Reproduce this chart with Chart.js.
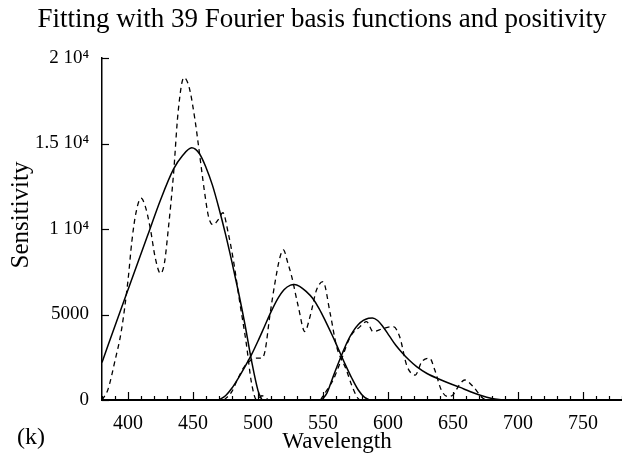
<!DOCTYPE html>
<html><head><meta charset="utf-8">
<script src="https://cdn.jsdelivr.net/npm/chart.js@4/dist/chart.umd.min.js"></script>
<style>html,body{margin:0;padding:0;background:#fff}#wrap{width:622px;height:457px}</style>
</head><body><div id="wrap"><canvas id="c" width="622" height="457"></canvas></div>
<script>
const titleText = "Fitting with 39 Fourier basis functions and positivity";
const xTitle = "Wavelength";
const yTitle = "Sensitivity";
const panelLabel = "(k)";
const xTickValues = [400, 450, 500, 550, 600, 650, 700, 750];
const yTickValues = [0, 5000, 10000, 15000, 20000];
const yTickLabels = ["0", "5000", "1 10\u2074", "1.5 10\u2074", "2 10\u2074"];

// Fitted (solid) curves
const blueFitX = [380, 395, 405, 415, 425, 435, 442, 449, 455, 460, 465, 470, 475, 480, 485, 490, 495, 500, 503];
const blueFitY = [2200, 5400, 7500, 9600, 11700, 13500, 14300, 14750, 14400, 13600, 12550, 11200, 9700, 8050, 6300, 4400, 2300, 550, 0];
const greenFitX = [470, 475, 480, 485, 490, 495, 500, 505, 510, 515, 520, 525, 528, 532, 537, 542, 547, 552, 557, 562, 567, 572, 577, 582, 586];
const greenFitY = [0, 250, 700, 1300, 1950, 2650, 3450, 4300, 5150, 5900, 6450, 6720, 6750, 6650, 6350, 5950, 5350, 4600, 3800, 2950, 2100, 1300, 600, 150, 0];
const redFitX = [549, 553, 557, 561, 565, 569, 573, 577, 581, 585, 588, 592, 596, 601, 606, 611, 616, 622, 630, 640, 648, 655, 663, 671, 680, 688];
const redFitY = [0, 400, 1200, 2000, 2750, 3450, 4000, 4400, 4650, 4780, 4800, 4650, 4300, 3750, 3200, 2750, 2350, 1950, 1550, 1200, 950, 750, 500, 280, 90, 0];

// Measured (dashed) curves
const blueDataX = [380, 384.5, 390, 395, 400, 403, 406, 410, 413, 417, 421, 425, 428, 431, 435, 438.5, 443, 447, 451.5, 454, 459, 462, 465.5, 469, 473, 477, 481, 486, 491, 495, 499, 503, 508];
const blueDataY = [0, 600, 2300, 4100, 7000, 9300, 10900, 11800, 11400, 10100, 8300, 7400, 8000, 10000, 13200, 16800, 18850, 18300, 16400, 15000, 12100, 10700, 10250, 10500, 10950, 9800, 8200, 5700, 3300, 1000, 0, 250, 0];
const greenDataX = [474, 480, 484, 489, 494, 499, 503, 505.5, 509, 513, 517, 519.5, 523, 526, 531, 536, 540, 545, 550, 555.5, 560.5, 568, 572, 576, 578];
const greenDataY = [0, 500, 1170, 1900, 2300, 2450, 2450, 2900, 4870, 6830, 8380, 8780, 8000, 7200, 5460, 4000, 4870, 6430, 6920, 5070, 3120, 1750, 880, 190, 0];
const redDataX = [548, 553, 558, 562, 564.5, 571, 578.5, 583.5, 588.5, 596.5, 604, 609, 614.5, 621, 626, 632, 636, 641, 646, 650, 655, 659, 665.5, 673, 676];
const redDataY = [0, 580, 1200, 1950, 2440, 3700, 4290, 4580, 4000, 4190, 4290, 3700, 2000, 1460, 2240, 2440, 1755, 585, 200, 300, 900, 1170, 780, 100, 0];

const SERIF = "'Liberation Serif', 'Times New Roman', serif";

function pts(xs, ys) { return xs.map((x, i) => ({ x: x, y: ys[i] })); }
function ds(xs, ys, dashed) {
  return {
    data: pts(xs, ys),
    borderColor: '#000',
    borderWidth: dashed ? 1.3 : 1.5,
    borderDash: dashed ? [5, 4] : [],
    pointRadius: 0,
    fill: false,
    cubicInterpolationMode: 'monotone'
  };
}

const decor = {
  id: 'decor',
  afterDraw(chart) {
    const ctx = chart.ctx;
    const xs = chart.scales.x, ys = chart.scales.y;
    const area = chart.chartArea;
    ctx.save();
    ctx.strokeStyle = '#000';
    ctx.lineWidth = 1.2;
    for (let v = 380; v <= 780; v += 10) {
      const px = Math.round(xs.getPixelForValue(v)) + 0.5;
      const len = (v % 50 === 0) ? 8 : 4;
      ctx.beginPath();
      ctx.moveTo(px, area.bottom);
      ctx.lineTo(px, area.bottom - len);
      ctx.stroke();
    }
    yTickValues.forEach(v => {
      const py = Math.round(ys.getPixelForValue(v)) + 0.5;
      ctx.beginPath();
      ctx.moveTo(area.left, py);
      ctx.lineTo(area.left + 7, py);
      ctx.stroke();
    });
    ctx.fillStyle = '#000';
    ctx.font = '27px ' + SERIF;
    ctx.textAlign = 'center';
    ctx.textBaseline = 'alphabetic';
    ctx.fillText(titleText, 322, 27);
    ctx.font = '23px ' + SERIF;
    ctx.fillText(xTitle, 337, 448);
    ctx.textAlign = 'left';
    ctx.font = '24px ' + SERIF;
    ctx.fillText(panelLabel, 17, 444);
    ctx.save();
    ctx.translate(28, 215);
    ctx.rotate(-Math.PI / 2);
    ctx.textAlign = 'center';
    ctx.font = '25px ' + SERIF;
    ctx.fillText(yTitle, 0, 0);
    ctx.restore();
    ctx.restore();
  }
};

new Chart(document.getElementById('c'), {
  type: 'line',
  data: {
    datasets: [
      ds(blueFitX, blueFitY, false),
      ds(greenFitX, greenFitY, false),
      ds(redFitX, redFitY, false),
      ds(blueDataX, blueDataY, true),
      ds(greenDataX, greenDataY, true),
      ds(redDataX, redDataY, true)
    ]
  },
  options: {
    responsive: false,
    animation: false,
    devicePixelRatio: 1,
    layout: { padding: { top: 58, left: 0, right: 0, bottom: 0 } },
    plugins: { legend: { display: false }, tooltip: { enabled: false }, title: { display: false } },
    scales: {
      x: {
        type: 'linear', min: 380, max: 780,
        grid: { display: false },
        border: { display: true, color: '#000', width: 2 },
        afterBuildTicks(scale) { scale.ticks = xTickValues.map(v => ({ value: v })); },
        afterFit(scale) { scale.height = 57; },
        ticks: { color: '#000', padding: 4, maxRotation: 0, autoSkip: false, font: { family: SERIF, size: 20 } }
      },
      y: {
        type: 'linear', min: 0, max: 20000,
        grid: { display: false },
        border: { display: true, color: '#000', width: 1.5 },
        afterBuildTicks(scale) { scale.ticks = yTickValues.map(v => ({ value: v })); },
        afterFit(scale) { scale.width = 102; },
        ticks: {
          color: '#000', padding: 5, autoSkip: false, font: { family: SERIF, size: 19 },
          callback(value) { const i = yTickValues.indexOf(value); return i >= 0 ? yTickLabels[i] : ''; }
        }
      }
    }
  },
  plugins: [decor]
});
</script>
</body></html>
